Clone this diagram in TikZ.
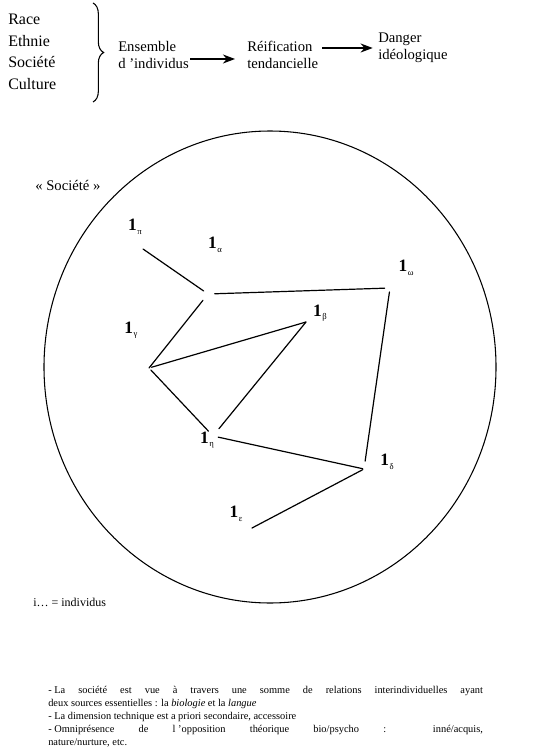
\documentclass[tikz,border=0pt]{standalone}
\usepackage{fontspec}
\setmainfont{Liberation Serif}
\usetikzlibrary{arrows.meta,decorations.pathreplacing,shapes.geometric}
\tikzset{
  flow/.style={-{Stealth[length=3.2mm,width=2.4mm]},line width=0.9pt},
  brc/.style={decorate,decoration={brace,amplitude=8pt},line width=0.8pt},
  tlbl/.style={font=\fontsize{11}{12.5}\selectfont,align=left,inner sep=0pt},
  notion/.style={font=\fontsize{12}{16.2}\selectfont,align=left,inner sep=0pt},
  indiv/.style={font=\fontsize{13}{14}\selectfont,inner sep=0pt},
  lien/.style={line width=0.9pt,line cap=round},
  ring/.style={draw,ellipse,line width=0.8pt,minimum width=339pt,minimum height=354pt,inner sep=0pt},
}
% an individual: bold 1 with a small greek index
\newcommand{\idv}[1]{\textbf{1}\kern.4pt\raisebox{-2.6pt}{\fontsize{6.5}{6.5}\selectfont #1}}

\begin{document}
\begin{tikzpicture}[x=0.75pt,y=-0.75pt]
  \useasboundingbox (0,0) rectangle (534,748);
  % top: notions, brace, chain of arrows
  \node[notion,anchor=west] (lst) at (8,52) {Race\\Ethnie\\Société\\Culture};
  \coordinate (bt) at (93,3);
  \coordinate (bb) at (93,102);
  \draw[brc] (bt) -- (bb);
  \node[tlbl,anchor=west] (ens) at (118,55) {Ensemble\\d 'individus};
  \node[tlbl,anchor=west] (reif) at (247,55) {Réification\\tendancielle};
  \node[tlbl,anchor=west] (dng) at (378,48) {Danger\\idéologique};
  \draw[flow,shorten <=1pt,shorten >=9pt] ([yshift=-3pt]ens.east) -- ([yshift=-3pt]ens.east -| reif.west);
  \draw[flow,shorten <=3pt,shorten >=4pt] (reif.east |- dng.west) -- (dng.west);

  % the society circle
  \node[ring] (soc) at (270,367) {};
  \node[font=\fontsize{11}{12}\selectfont,anchor=west,inner sep=0pt] (soct) at (35,185) {« Société »};

  % individuals
  \node[indiv] (pi) at (135,227) {\idv{π}};
  \node[indiv] (al) at (215,245) {\idv{α}};
  \node[indiv] (om) at (406,268) {\idv{ω}};
  \node[indiv] (be) at (320,313) {\idv{β}};
  \node[indiv] (ga) at (131,330) {\idv{γ}};
  \node[indiv] (et) at (207,440) {\idv{η}};
  \node[indiv] (de) at (387,462) {\idv{δ}};
  \node[indiv] (ep) at (236,514) {\idv{ε}};

  % relations
  \coordinate (pE) at (143,249);
  \coordinate (hub) at (208,294);
  \coordinate (wE) at (390,288);
  \coordinate (bE) at (306,322);
  \coordinate (gV) at (149,368);
  \coordinate (hV) at (213,436);
  \coordinate (dV) at (364,469);
  \coordinate (eE) at (252,528);
  \draw[lien,shorten >=4pt] (pE) -- (hub);
  \draw[lien,shorten <=5pt,shorten >=4pt] (hub) -- (wE);
  \draw[lien,shorten <=3pt,shorten >=6pt] (wE) -- (dV);
  \draw[lien,shorten <=6pt] (hub) -- (gV);
  \draw[lien,shorten <=2pt] (gV) -- (bE);
  \draw[lien,shorten >=7pt] (bE) -- (hV);
  \draw[lien,shorten <=2pt,shorten >=5pt] (gV) -- (hV);
  \draw[lien,shorten <=4pt,shorten >=1pt] (hV) -- (dV);
  \draw[lien,shorten <=1pt] (dV) -- (eE);

  \node[font=\fontsize{9}{10}\selectfont,anchor=west,inner sep=0pt] (leg) at (33,602) {i… = individus};

  % notes under the figure
  \node[anchor=north west,inner sep=0pt,text width=326pt,align=justify,
        font=\fontsize{7.8}{9.75}\selectfont] (notes) at (48,686)
    {\mbox{- La} société est vue à travers une somme de relations interindividuelles ayant\linebreak
     deux sources essentielles : la \textit{biologie} et la \textit{langue}\\
     \mbox{- La} dimension technique est a priori secondaire, accessoire\\
     \mbox{- Omniprésence} de \mbox{l 'opposition} théorique bio/psycho : inné/acquis,\linebreak
     nature/nurture, etc.};
\end{tikzpicture}
\end{document}
